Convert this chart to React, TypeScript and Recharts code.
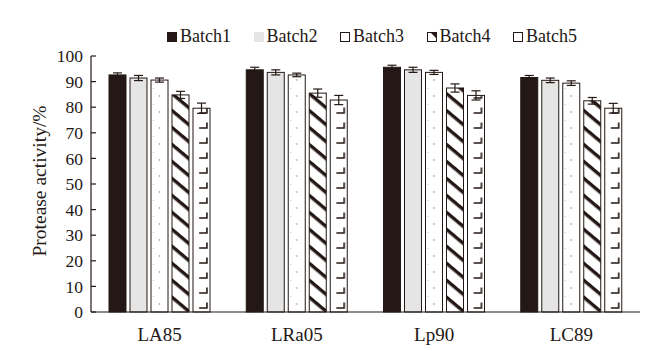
import React from 'react';
import { BarChart, Bar, XAxis, YAxis, ErrorBar } from 'recharts';

const categories = ['LA85', 'LRa05', 'Lp90', 'LC89'];
const batchNames = ['Batch1', 'Batch2', 'Batch3', 'Batch4', 'Batch5'];
const batch1 = [92.6, 94.6, 95.6, 91.6];
const batch2 = [91.4, 93.6, 94.6, 90.5];
const batch3 = [90.6, 92.6, 93.6, 89.4];
const batch4 = [84.8, 85.5, 87.5, 82.5];
const batch5 = [79.6, 82.8, 84.6, 79.6];
const err1 = [0.8, 1.0, 0.8, 0.8];
const err2 = [1.0, 1.0, 1.0, 0.9];
const err3 = [0.8, 0.7, 0.8, 0.9];
const err4 = [1.4, 1.6, 1.6, 1.3];
const err5 = [2.0, 1.8, 1.8, 1.9];
const yTicks = [0, 10, 20, 30, 40, 50, 60, 70, 80, 90, 100];

const values = [batch1, batch2, batch3, batch4, batch5];
const errors = [err1, err2, err3, err4, err5];

const data = categories.map((c, i) => {
  const row: any = { name: c };
  values.forEach((v, k) => {
    row[`b${k + 1}`] = v[i];
    row[`e${k + 1}`] = errors[k][i];
  });
  return row;
});

const INK = '#231815';
const FONT = '"Liberation Serif", "Times New Roman", serif';

function PatternBar(props: any) {
  const { x, y, width, height, index, kind } = props;
  if (width == null || height == null) return null;
  const id = `pat-${kind}-${index}`;
  const bottom = y + height;
  let fill = '#fff';
  let defs: any = null;
  if (kind === 1) fill = INK;
  else if (kind === 2) fill = '#e5e5e5';
  else if (kind === 3) {
    defs = (
      <pattern id={id} patternUnits="userSpaceOnUse" width={width} height={16} patternTransform={`translate(${x},${bottom})`}>
        <rect x={0} y={0} width={width} height={16} fill="#fff" />
        <circle cx={width / 2} cy={8} r={0.9} fill="#b0b0b0" />
        <circle cx={2.5} cy={0.5} r={0.6} fill="#c8c8c8" />
      </pattern>
    );
    fill = `url(#${id})`;
  } else if (kind === 4) {
    defs = (
      <pattern id={id} patternUnits="userSpaceOnUse" width={13} height={13} patternTransform={`translate(${x},${bottom}) rotate(40)`}>
        <rect x={0} y={0} width={13} height={13} fill="#fff" />
        <rect x={0} y={0} width={13} height={3.4} fill={INK} />
      </pattern>
    );
    fill = `url(#${id})`;
  } else if (kind === 5) {
    defs = (
      <pattern id={id} patternUnits="userSpaceOnUse" width={width} height={15} patternTransform={`translate(${x},${bottom})`}>
        <rect x={0} y={0} width={width} height={15} fill="#fff" />
        <path d={`M${width * 0.36} 11 H${width * 0.82} V5.5`} stroke={INK} strokeWidth={1.6} fill="none" />
      </pattern>
    );
    fill = `url(#${id})`;
  }
  return (
    <g>
      {defs && <defs>{defs}</defs>}
      <rect x={x} y={y} width={width} height={height} fill={fill} stroke={INK} strokeWidth={1} />
    </g>
  );
}

function LegendIcon({ k }: { k: number }) {
  const common: any = { display: 'inline-block', width: 10, height: 10, boxSizing: 'border-box', marginRight: 3, verticalAlign: 'baseline', position: 'relative' };
  if (k === 0) return <span style={{ ...common, background: INK }} />;
  if (k === 1) return <span style={{ ...common, background: '#e5e5e5' }} />;
  if (k === 3)
    return (
      <span style={{ ...common, background: '#fff', border: `1px solid ${INK}`, overflow: 'hidden' }}>
        <svg width={8} height={8} style={{ position: 'absolute', left: 0, top: 0 }}>
          <path d="M3 0 H8 V5 Z" fill={INK} />
        </svg>
      </span>
    );
  return <span style={{ ...common, background: '#fff', border: `1px solid ${INK}` }} />;
}

export default function App() {
  return (
    <div style={{ position: 'absolute', left: 0, top: 0, width: 668, height: 351, background: '#fff', fontFamily: FONT }}>
      <div style={{ position: 'absolute', left: 167, top: 27, display: 'flex', fontSize: 18, lineHeight: '18px', color: INK, whiteSpace: 'nowrap' }}>
        {batchNames.map((b, k) => (
          <div key={b} style={{ width: 86.5 }}>
            <LegendIcon k={k} />
            {b}
          </div>
        ))}
      </div>
      <BarChart
        width={668}
        height={351}
        data={data}
        margin={{ top: 56, right: 28, bottom: 9, left: 31 }}
        barSize={17}
        barGap={4}
      >
        <XAxis
          dataKey="name"
          height={30}
          tickLine={false}
          tickSize={0}
          tickMargin={16}
          axisLine={{ stroke: INK, strokeWidth: 1.2 }}
          tick={{ fill: INK, fontSize: 19, fontFamily: FONT }}
        />
        <YAxis
          width={60}
          domain={[0, 100]}
          ticks={yTicks}
          interval={0}
          tickSize={-5}
          tickMargin={13}
          axisLine={{ stroke: INK, strokeWidth: 1.2 }}
          tickLine={{ stroke: INK, strokeWidth: 1.2 }}
          tick={{ fill: INK, fontSize: 17.5, fontFamily: FONT }}
          label={{
            content: () => (
              <text
                x={46}
                y={181}
                transform="rotate(-90, 46, 181)"
                textAnchor="middle"
                fill={INK}
                fontSize={19.5}
                fontFamily={FONT}
              >
                Protease activity/%
              </text>
            ),
          }}
        />
        {batchNames.map((b, k) => (
          <Bar
            key={b}
            dataKey={`b${k + 1}`}
            name={b}
            isAnimationActive={false}
            shape={(p: any) => <PatternBar {...p} kind={k + 1} />}
          >
            <ErrorBar dataKey={`e${k + 1}`} width={4.5} stroke={INK} strokeWidth={1.2} isAnimationActive={false} />
          </Bar>
        ))}
      </BarChart>
    </div>
  );
}
